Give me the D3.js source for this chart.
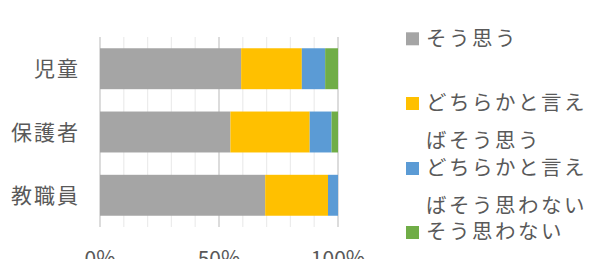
<!DOCTYPE html>
<html>
<head>
<meta charset="utf-8">
<script src="https://cdn.jsdelivr.net/npm/d3@7"></script>
<style>
  body { margin: 0; background: #fff; }
  text { font-family: "Noto Sans CJK JP", "Noto Sans", sans-serif; fill: #595959; }
</style>
</head>
<body>
<div id="chart"></div>
<script>
var categories = ['児童', '保護者', '教職員'];
var seriesNames = ['そう思う', 'どちらかと言えばそう思う', 'どちらかと言えばそう思わない', 'そう思わない'];
var colors = ['#a5a5a5', '#ffc000', '#5b9bd5', '#70ad47'];
// percent per category, same order as seriesNames
var agree        = [59.3, 54.8, 69.4];
var ratherAgree  = [25.5, 33.3, 26.4];
var ratherNot    = [9.8, 9.2, 4.2];
var disagree     = [5.4, 2.7, 0];
var tickValues = [0, 50, 100];

var W = 595, H = 259;

var svg = d3.select('#chart')
    .append('svg')
    .attr('width', W)
    .attr('height', H);

var x = d3.scaleLinear().domain([0, 100]).range([100, 338]);
var y = d3.scaleBand()
    .domain(categories)
    .range([37, 227])
    .paddingInner(0.353)
    .paddingOuter(0.178);

// gridlines every 10%
var grid = d3.range(0, 101, 10);
svg.append('g')
    .selectAll('line')
    .data(grid)
    .enter()
    .append('line')
    .attr('x1', d => x(d))
    .attr('x2', d => x(d))
    .attr('y1', y.range()[0])
    .attr('y2', y.range()[1])
    .attr('stroke', d => d % 50 == 0 ? '#d4d4d4' : '#ececec')
    .attr('stroke-width', d => d % 50 == 0 ? 1.6 : 1.2);

var rows = categories.map((c, i) => ({
    cat: c,
    s0: agree[i], s1: ratherAgree[i], s2: ratherNot[i], s3: disagree[i]
}));

var stack = d3.stack().keys(['s0', 's1', 's2', 's3']);
var layers = stack(rows);

svg.append('g')
    .selectAll('g')
    .data(layers)
    .enter()
    .append('g')
    .attr('fill', (d, i) => colors[i])
    .selectAll('rect')
    .data(d => d)
    .enter()
    .append('rect')
    .attr('x', d => x(d[0]))
    .attr('width', d => x(d[1]) - x(d[0]))
    .attr('y', d => y(d.data.cat))
    .attr('height', y.bandwidth());

// category labels
svg.append('g')
    .selectAll('text')
    .data(categories)
    .enter()
    .append('text')
    .attr('x', 80)
    .attr('y', d => y(d) + y.bandwidth() / 2)
    .attr('dy', '0.36em')
    .attr('text-anchor', 'end')
    .style('font-size', '21px')
    .style('letter-spacing', '2px')
    .text(d => d);

// x tick labels (cut off at the bottom like the original)
svg.append('g')
    .selectAll('text')
    .data(tickValues)
    .enter()
    .append('text')
    .attr('x', d => x(d))
    .attr('y', 266)
    .attr('text-anchor', 'middle')
    .style('font-size', '21px')
    .text(d => d + '%');

// legend
var legendY = [38.3, 103, 168, 232];
var wrapAt = 7;
var legend = svg.append('g')
    .selectAll('g')
    .data(seriesNames)
    .enter()
    .append('g')
    .attr('transform', (d, i) => `translate(406,${legendY[i]})`);

legend.append('rect')
    .attr('x', 0)
    .attr('y', -6)
    .attr('width', 13)
    .attr('height', 13)
    .attr('fill', (d, i) => colors[i]);

legend.append('text')
    .attr('x', 20)
    .style('font-size', '20.5px')
    .style('letter-spacing', '2.5px')
    .selectAll('tspan')
    .data(d => d.length > wrapAt ? [d.slice(0, wrapAt), d.slice(wrapAt)] : [d])
    .enter()
    .append('tspan')
    .attr('x', 20)
    .attr('y', (d, i) => i * 37.5)
    .attr('dy', '0.36em')
    .text(d => d);
</script>
</body>
</html>
